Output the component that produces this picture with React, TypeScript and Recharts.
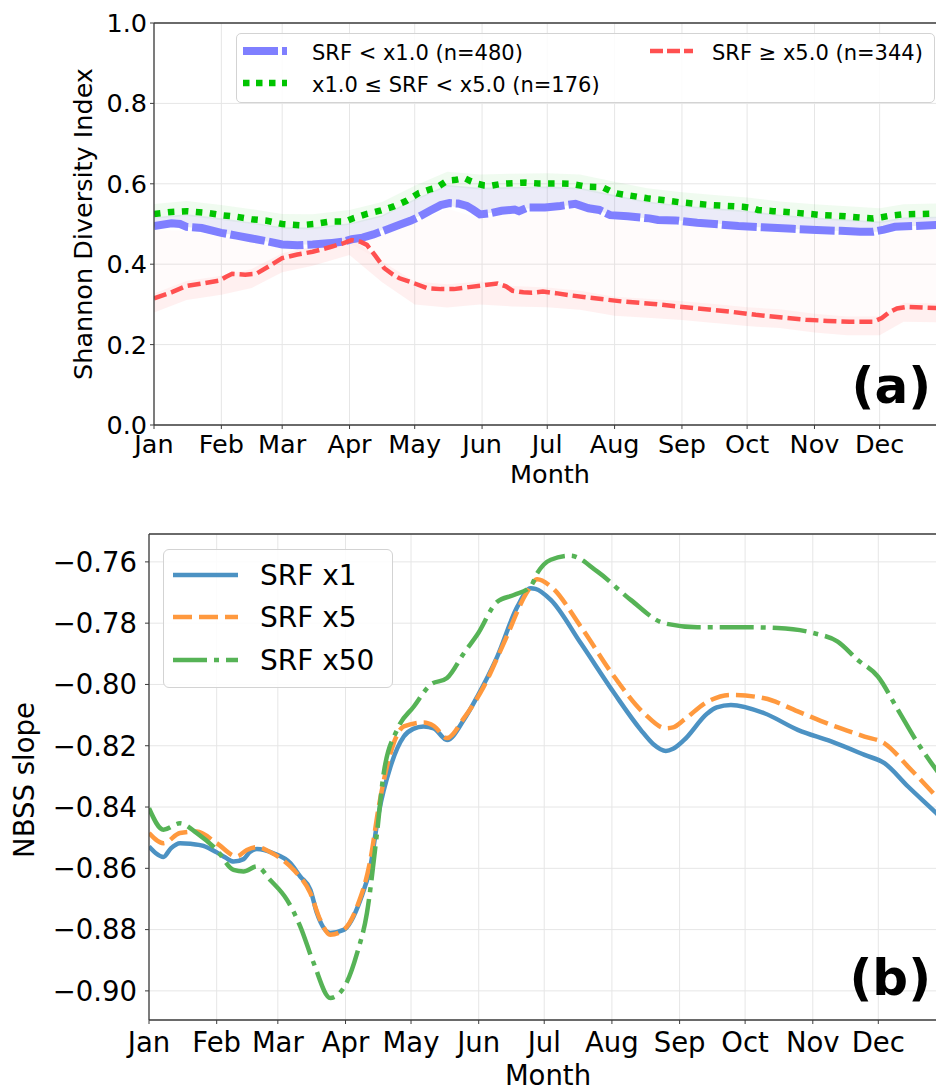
import { ComposedChart, LineChart, Line, Area, XAxis, YAxis, CartesianGrid, Legend, ReferenceLine } from 'recharts';

const FONT = "'DejaVu Sans', 'Liberation Sans', sans-serif";

const monthStarts = [0, 31, 59, 90, 120, 151, 181, 212, 243, 273, 304, 334];
const monthLabels = ['Jan', 'Feb', 'Mar', 'Apr', 'May', 'Jun', 'Jul', 'Aug', 'Sep', 'Oct', 'Nov', 'Dec'];

// ---- panel (a): Shannon diversity index ----
const shannonTicks = [0, 0.2, 0.4, 0.6, 0.8, 1.0];

const lowDays = [0, 8, 12, 15, 22, 31, 38, 45, 52, 59, 66, 73, 80, 82, 87, 91, 96, 101, 107, 113, 118, 122, 127, 132, 136, 140, 144, 147, 150, 155, 160, 166, 168, 172, 180, 187, 194, 200, 205, 210, 218, 228, 232, 240, 250, 260, 269, 280, 294, 305, 316, 325, 331, 336, 341, 350, 362, 365];
const lowVals = [0.495, 0.502, 0.5, 0.493, 0.49, 0.478, 0.471, 0.464, 0.457, 0.449, 0.447, 0.449, 0.452, 0.453, 0.456, 0.462, 0.466, 0.474, 0.486, 0.498, 0.508, 0.518, 0.533, 0.547, 0.552, 0.551, 0.545, 0.535, 0.524, 0.527, 0.533, 0.536, 0.532, 0.541, 0.541, 0.545, 0.55, 0.539, 0.535, 0.522, 0.519, 0.514, 0.51, 0.509, 0.503, 0.499, 0.495, 0.492, 0.488, 0.485, 0.483, 0.481, 0.481, 0.486, 0.493, 0.495, 0.498, 0.498];

const midDays = [0, 8, 15, 24, 31, 38, 45, 52, 59, 67, 74, 81, 88, 92, 98, 104, 110, 116, 122, 127, 130, 135, 139, 143, 146, 149, 152, 155, 160, 163, 171, 177, 185, 192, 199, 205, 207, 210, 213, 220, 227, 235, 242, 250, 257, 264, 271, 275, 278, 285, 293, 300, 308, 316, 323, 331, 335, 338, 345, 353, 361, 365];
const midVals = [0.525, 0.53, 0.532, 0.528, 0.522, 0.518, 0.512, 0.508, 0.5, 0.497, 0.5, 0.506, 0.506, 0.515, 0.525, 0.533, 0.543, 0.557, 0.577, 0.586, 0.59, 0.608, 0.61, 0.614, 0.606, 0.6, 0.596, 0.595, 0.6, 0.601, 0.603, 0.601, 0.601, 0.6, 0.593, 0.592, 0.59, 0.582, 0.576, 0.57, 0.564, 0.559, 0.554, 0.55, 0.547, 0.545, 0.543, 0.54, 0.535, 0.532, 0.529, 0.526, 0.522, 0.52, 0.517, 0.514, 0.517, 0.52, 0.524, 0.525, 0.526, 0.527];

const highDays = [0, 8, 15, 22, 30, 33, 36, 42, 47, 53, 59, 66, 73, 78, 82, 87, 91, 95, 98, 102, 106, 110, 113, 120, 126, 132, 138, 145, 152, 158, 162, 165, 170, 174, 179, 185, 191, 200, 208, 216, 230, 250, 265, 277, 290, 300, 310, 320, 331, 335, 338, 342, 347, 355, 365];
const highVals = [0.315, 0.33, 0.346, 0.352, 0.359, 0.368, 0.376, 0.374, 0.376, 0.395, 0.415, 0.424, 0.431, 0.438, 0.444, 0.452, 0.46, 0.456, 0.448, 0.42, 0.39, 0.374, 0.365, 0.352, 0.34, 0.338, 0.338, 0.343, 0.348, 0.352, 0.345, 0.334, 0.33, 0.329, 0.332, 0.328, 0.323, 0.317, 0.312, 0.307, 0.301, 0.29, 0.282, 0.274, 0.267, 0.262, 0.259, 0.257, 0.257, 0.266, 0.279, 0.29, 0.294, 0.292, 0.29];

// spread of the individual runs behind the medians
const bandDays = [0, 15, 31, 45, 59, 73, 90, 105, 120, 135, 150, 165, 181, 196, 212, 227, 243, 258, 273, 288, 304, 319, 334, 345, 365];
const midBandLo = [0.513, 0.52, 0.51, 0.5, 0.488, 0.487, 0.498, 0.518, 0.558, 0.593, 0.586, 0.588, 0.589, 0.586, 0.568, 0.552, 0.542, 0.535, 0.529, 0.519, 0.512, 0.507, 0.502, 0.512, 0.515];
const midBandHi = [0.55, 0.557, 0.547, 0.537, 0.525, 0.524, 0.535, 0.555, 0.595, 0.63, 0.623, 0.625, 0.626, 0.623, 0.605, 0.589, 0.579, 0.572, 0.566, 0.556, 0.549, 0.544, 0.539, 0.549, 0.552];
const lowBandLo = [0.495, 0.493, 0.478, 0.464, 0.449, 0.449, 0.462, 0.485, 0.515, 0.548, 0.524, 0.535, 0.543, 0.548, 0.52, 0.514, 0.508, 0.502, 0.494, 0.489, 0.485, 0.482, 0.481, 0.494, 0.498];
const lowBandHi = [0.517, 0.524, 0.514, 0.504, 0.492, 0.491, 0.502, 0.522, 0.562, 0.597, 0.59, 0.592, 0.593, 0.59, 0.572, 0.556, 0.546, 0.539, 0.533, 0.523, 0.516, 0.511, 0.506, 0.516, 0.519];
const highBandLo = [0.28, 0.311, 0.324, 0.341, 0.38, 0.396, 0.423, 0.355, 0.3, 0.292, 0.3, 0.295, 0.293, 0.287, 0.272, 0.267, 0.261, 0.254, 0.246, 0.241, 0.23, 0.223, 0.223, 0.257, 0.255];
const highBandHi = [0.327, 0.358, 0.371, 0.388, 0.427, 0.443, 0.47, 0.407, 0.357, 0.35, 0.357, 0.346, 0.342, 0.334, 0.319, 0.314, 0.308, 0.301, 0.293, 0.288, 0.277, 0.27, 0.27, 0.304, 0.302];
const spreadLo = [0.327, 0.358, 0.371, 0.388, 0.427, 0.439, 0.452, 0.407, 0.357, 0.35, 0.357, 0.346, 0.342, 0.334, 0.319, 0.314, 0.308, 0.301, 0.293, 0.288, 0.277, 0.27, 0.27, 0.304, 0.302];
const spreadHi = [0.485, 0.483, 0.468, 0.454, 0.439, 0.439, 0.452, 0.475, 0.505, 0.538, 0.514, 0.525, 0.533, 0.538, 0.51, 0.504, 0.498, 0.492, 0.484, 0.479, 0.475, 0.472, 0.471, 0.484, 0.488];

// ---- panel (b): NBSS slope ----
const slopeTicks = [-0.9, -0.88, -0.86, -0.84, -0.82, -0.8, -0.78, -0.76];

const x1Days = [0, 3, 6.6, 10, 14.2, 19, 24.9, 31, 35, 38.7, 43.3, 46, 49.4, 57, 64.7, 69.3, 73.9, 76.9, 83, 89.1, 96.8, 101.4, 105.2, 110.6, 116.7, 121, 125.8, 130.4, 136.5, 144.2, 150.3, 159.5, 168.7, 174.8, 177, 184, 197.7, 213, 225.2, 231, 236.7, 240, 245.1, 255.8, 260, 266.5, 281.8, 297.1, 312.4, 327.7, 336.8, 347.6, 360.6, 365];
const x1Vals = [-0.8529, -0.855, -0.8563, -0.8535, -0.8518, -0.852, -0.8527, -0.8548, -0.8565, -0.8578, -0.857, -0.8548, -0.8537, -0.8551, -0.8583, -0.8627, -0.867, -0.8746, -0.8811, -0.8801, -0.8703, -0.8594, -0.842, -0.8268, -0.817, -0.8145, -0.8137, -0.8143, -0.8181, -0.8115, -0.804, -0.7909, -0.7746, -0.7686, -0.7688, -0.7724, -0.7865, -0.8028, -0.8148, -0.8195, -0.8217, -0.821, -0.8181, -0.8094, -0.8075, -0.8067, -0.8094, -0.8148, -0.8186, -0.823, -0.8257, -0.8333, -0.842, -0.845];

const x5Days = [0, 6.6, 14.2, 21.9, 31, 40.2, 44.8, 49.4, 57, 66.2, 73.9, 78.4, 83, 89.1, 95.3, 101.4, 105.2, 110.6, 116.7, 125.8, 130.4, 136.5, 144.2, 153.3, 162.5, 173.3, 177.8, 184, 197.7, 213, 226.7, 236.7, 240, 245.1, 255.8, 266.5, 281.8, 297.1, 312.4, 327.7, 336.8, 347.6, 360.6, 365];
const x5Vals = [-0.8485, -0.8518, -0.8485, -0.848, -0.8518, -0.8561, -0.854, -0.8531, -0.8553, -0.8605, -0.8681, -0.8768, -0.8817, -0.8801, -0.8725, -0.8572, -0.84, -0.8224, -0.8137, -0.8124, -0.8135, -0.8175, -0.811, -0.8007, -0.7865, -0.7697, -0.7657, -0.768, -0.7811, -0.7974, -0.8094, -0.8143, -0.814, -0.8115, -0.8056, -0.8034, -0.8045, -0.8088, -0.8132, -0.817, -0.8192, -0.8268, -0.8366, -0.84];

const x50Days = [0, 6.6, 14.2, 21.9, 31, 38.7, 43.3, 49.4, 55.5, 63.2, 69.3, 75.4, 83, 89.1, 95.3, 99.8, 104.4, 107.5, 113.6, 121.3, 128.9, 136.5, 144.2, 150.3, 159.5, 167.1, 174.8, 177.8, 184, 193, 205.4, 220.6, 235.9, 251.2, 269.6, 287.9, 304.7, 315.4, 324.6, 333.8, 343, 352.1, 360.6, 365];
const x50Vals = [-0.8404, -0.8474, -0.8453, -0.8485, -0.854, -0.8605, -0.861, -0.8594, -0.8638, -0.8703, -0.879, -0.8909, -0.9023, -0.8991, -0.8877, -0.8746, -0.8485, -0.8289, -0.8148, -0.8072, -0.8001, -0.7979, -0.7898, -0.7838, -0.773, -0.7708, -0.768, -0.7637, -0.7593, -0.758, -0.7632, -0.7724, -0.78, -0.7813, -0.7813, -0.7816, -0.7833, -0.786, -0.792, -0.7974, -0.8083, -0.8192, -0.8279, -0.832];

const toRows = (days: number[], vals: number[]) => days.map((day, i) => ({ day, value: vals[i] }));

const bandRows = bandDays.map((day, i) => ({
  day,
  spread: [spreadLo[i], spreadHi[i]],
  midBand: [midBandLo[i], midBandHi[i]],
  lowBand: [lowBandLo[i], lowBandHi[i]],
  highBand: [highBandLo[i], highBandHi[i]],
}));

const fmtMonth = (v: number) => monthLabels[monthStarts.indexOf(v)] ?? '';

const C = {
  low: '#7f7fff',
  mid: '#00c400',
  high: '#ff5050',
  x1: '#4c92c3',
  x5: '#ff993e',
  x50: '#56b356',
  axis: '#3c3c3c',
  grid: '#e6e6e6',
};

const TopLegend = () => (
  <div style={{ width: 699, height: 70, boxSizing: 'border-box', border: '1px solid #d3d3d3', borderRadius: 5, background: 'rgba(255,255,255,0.85)', position: 'relative' }}>
    <svg width={699} height={70} style={{ position: 'absolute', left: -1, top: -1 }} fontFamily={FONT} fontSize={21}>
      <line x1={7} x2={51} y1={18} y2={18} stroke={C.low} strokeWidth={8} strokeDasharray="35 4" />
      <text x={76} y={27} fill="#000">SRF &lt; x1.0 (n=480)</text>
      <line x1={7} x2={51} y1={50} y2={50} stroke={C.mid} strokeWidth={6.5} strokeDasharray="6.5 6.5" />
      <text x={76} y={59} fill="#000">x1.0 ≤ SRF &lt; x5.0 (n=176)</text>
      <line x1={414} x2={457} y1={18} y2={18} stroke={C.high} strokeWidth={4.5} strokeDasharray="13 4" />
      <text x={476} y={27} fill="#000">SRF ≥ x5.0 (n=344)</text>
    </svg>
  </div>
);

const BottomLegend = () => (
  <div style={{ width: 230, height: 139, boxSizing: 'border-box', border: '1px solid #d3d3d3', borderRadius: 6, background: 'rgba(255,255,255,0.85)', position: 'relative' }}>
    <svg width={230} height={139} style={{ position: 'absolute', left: -1, top: -1 }} fontFamily={FONT} fontSize={28}>
      <line x1={10} x2={75} y1={26} y2={26} stroke={C.x1} strokeWidth={4.5} />
      <text x={97} y={36} fill="#000">SRF x1</text>
      <line x1={10} x2={75} y1={68} y2={68} stroke={C.x5} strokeWidth={4.5} strokeDasharray="19 7" />
      <text x={97} y={78} fill="#000">SRF x5</text>
      <line x1={10} x2={75} y1={111} y2={111} stroke={C.x50} strokeWidth={4.5} strokeDasharray="34 7 5 7" />
      <text x={97} y={121} fill="#000">SRF x50</text>
    </svg>
  </div>
);

const ShannonPanel = () => (
  <ComposedChart width={947} height={500} data={bandRows} margin={{ top: 23, right: 0, left: 0, bottom: 0 }}>
    <CartesianGrid stroke={C.grid} />
    <XAxis
      dataKey="day"
      type="number"
      domain={[0, 365]}
      allowDataOverflow
      ticks={monthStarts}
      interval={0}
      tickFormatter={fmtMonth}
      height={75}
      tickSize={4}
      tickMargin={5.5}
      axisLine={{ stroke: C.axis, strokeWidth: 1.3 }}
      tickLine={{ stroke: C.axis }}
      tick={{ fontSize: 25.5, fill: '#000', fontFamily: FONT }}
    />
    <YAxis
      type="number"
      domain={[0, 1]}
      ticks={shannonTicks}
      interval={0}
      tickFormatter={(v: number) => v.toFixed(1)}
      width={154}
      tickSize={4}
      tickMargin={3}
      axisLine={{ stroke: C.axis, strokeWidth: 1.3 }}
      tickLine={{ stroke: C.axis }}
      tick={{ fontSize: 25.5, fill: '#000', fontFamily: FONT }}
    />
    <ReferenceLine y={1} stroke={C.axis} strokeWidth={1.3} />
    <Area dataKey="spread" type="linear" stroke="none" fill="#ff7a7a" fillOpacity={0.03} isAnimationActive={false} />
    <Area dataKey="highBand" type="linear" stroke="none" fill="#ff6b6b" fillOpacity={0.1} isAnimationActive={false} />
    <Area dataKey="midBand" type="linear" stroke="none" fill="#3ccf3c" fillOpacity={0.08} isAnimationActive={false} />
    <Area dataKey="lowBand" type="linear" stroke="none" fill="#8f8fd8" fillOpacity={0.18} isAnimationActive={false} />
    <Line data={toRows(lowDays, lowVals)} dataKey="value" type="linear" stroke={C.low} strokeWidth={8} strokeDasharray="35 4" dot={false} activeDot={false} isAnimationActive={false} />
    <Line data={toRows(midDays, midVals)} dataKey="value" type="linear" stroke={C.mid} strokeWidth={6.5} strokeDasharray="6.5 7.5" dot={false} activeDot={false} isAnimationActive={false} />
    <Line data={toRows(highDays, highVals)} dataKey="value" type="linear" stroke={C.high} strokeWidth={4.5} strokeDasharray="13 5" dot={false} activeDot={false} isAnimationActive={false} />
    <Legend
      layout="vertical"
      align="center"
      verticalAlign="middle"
      content={() => <TopLegend />}
      wrapperStyle={{ position: 'absolute', left: 236, top: 33, width: 699, height: 70 }}
    />
  </ComposedChart>
);

const SlopePanel = () => (
  <LineChart width={946} height={590} margin={{ top: 34, right: 0, left: 0, bottom: 0 }}>
    <CartesianGrid stroke={C.grid} />
    <XAxis
      dataKey="day"
      type="number"
      domain={[0, 365]}
      allowDataOverflow
      ticks={monthStarts}
      interval={0}
      tickFormatter={fmtMonth}
      height={70}
      tickSize={4}
      tickMargin={8}
      axisLine={{ stroke: C.axis, strokeWidth: 1.3 }}
      tickLine={{ stroke: C.axis }}
      tick={{ fontSize: 27.5, fill: '#000', fontFamily: FONT }}
    />
    <YAxis
      type="number"
      domain={[-0.9095, -0.7509]}
      allowDataOverflow
      ticks={slopeTicks}
      interval={0}
      tickFormatter={(v: number) => '\u2212' + Math.abs(v).toFixed(2)}
      width={149}
      tickSize={4}
      tickMargin={8}
      axisLine={{ stroke: C.axis, strokeWidth: 1.3 }}
      tickLine={{ stroke: C.axis }}
      tick={{ fontSize: 27.5, fill: '#000', fontFamily: FONT }}
    />
    <ReferenceLine y={-0.7509} stroke={C.axis} strokeWidth={1.3} />
    <Line data={toRows(x1Days, x1Vals)} dataKey="value" type="monotone" stroke={C.x1} strokeWidth={4.5} dot={false} activeDot={false} isAnimationActive={false} />
    <Line data={toRows(x5Days, x5Vals)} dataKey="value" type="monotone" stroke={C.x5} strokeWidth={4.5} strokeDasharray="19 7" dot={false} activeDot={false} isAnimationActive={false} />
    <Line data={toRows(x50Days, x50Vals)} dataKey="value" type="monotone" stroke={C.x50} strokeWidth={4.5} strokeDasharray="34 7 5 7" dot={false} activeDot={false} isAnimationActive={false} />
    <Legend
      layout="vertical"
      align="center"
      verticalAlign="middle"
      content={() => <BottomLegend />}
      wrapperStyle={{ position: 'absolute', left: 163, top: 49, width: 230, height: 139 }}
    />
  </LineChart>
);

export default function App() {
  return (
    <div style={{ position: 'absolute', left: 0, top: 0, width: 936, height: 1090, overflow: 'hidden', background: '#fff', fontFamily: FONT }}>
      <div style={{ position: 'absolute', left: 0, top: 0 }}>
        <ShannonPanel />
      </div>
      <div style={{ position: 'absolute', left: 0, top: 500 }}>
        <SlopePanel />
      </div>
      <svg width={936} height={1090} style={{ position: 'absolute', left: 0, top: 0, pointerEvents: 'none' }} fontFamily={FONT}>
        <text transform="translate(92,224) rotate(-90)" textAnchor="middle" fontSize={25.5} fill="#000">Shannon Diversity Index</text>
        <text x={550} y={483} textAnchor="middle" fontSize={25.5} fill="#000">Month</text>
        <text x={931} y={403} textAnchor="end" fontSize={50} fontWeight="bold" fill="#000">(a)</text>
        <text transform="translate(34,780) rotate(-90)" textAnchor="middle" fontSize={27.5} fill="#000">NBSS slope</text>
        <text x={548} y={1085} textAnchor="middle" fontSize={27.5} fill="#000">Month</text>
        <text x={931} y={995} textAnchor="end" fontSize={50} fontWeight="bold" fill="#000">(b)</text>
      </svg>
    </div>
  );
}
